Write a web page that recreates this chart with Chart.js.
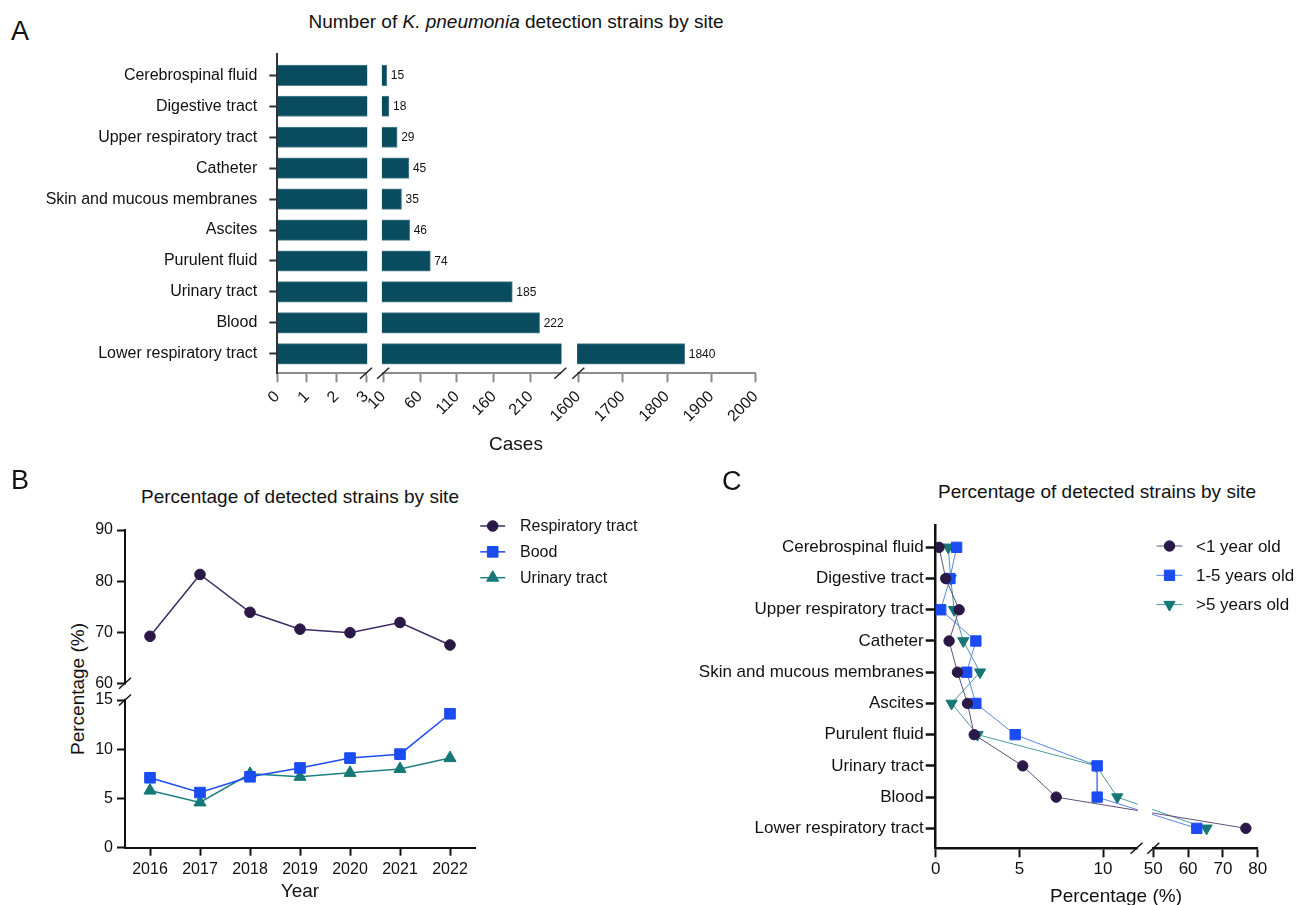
<!DOCTYPE html>
<html>
<head>
<meta charset="utf-8">
<title>K. pneumonia detection strains</title>
<script src="https://cdn.jsdelivr.net/npm/chart.js"></script>
<style>
  body { margin: 0; width: 1296px; height: 905px; background: #fff; position: relative; overflow: hidden;
         font-family: "Liberation Sans", Arial, sans-serif; color: #111; }
  canvas { position: absolute; }
  .t { position: absolute; white-space: nowrap; line-height: 1; font-size: 19px; transform: translate(-50%, -50%); }
  .letter { position: absolute; line-height: 1; font-size: 27px; transform: translateY(-50%); }
</style>
</head>
<body>
<div class="letter" style="left:11px;top:31px">A</div>
<div class="t" style="left:516px;top:21px">Number of <i>K. pneumonia</i> detection strains by site</div>
<canvas id="chartA" width="780" height="430" style="left:0;top:40px"></canvas>
<div class="t" style="left:516px;top:443px">Cases</div>

<div class="letter" style="left:11px;top:480px">B</div>
<div class="t" style="left:300px;top:496px">Percentage of detected strains by site</div>
<div class="t" style="left:77px;top:689px;transform:translate(-50%,-50%) rotate(-90deg)">Percentage (%)</div>
<canvas id="chartB" width="690" height="400" style="left:0;top:505px"></canvas>
<div class="t" style="left:300px;top:890px">Year</div>

<div class="letter" style="left:722px;top:481px">C</div>
<div class="t" style="left:1097px;top:491px">Percentage of detected strains by site</div>
<canvas id="chartC" width="606" height="405" style="left:690px;top:500px"></canvas>
<div class="t" style="left:1116px;top:895px">Percentage (%)</div>

<script>
// ---- data ----
const sites = ["Cerebrospinal fluid", "Digestive tract", "Upper respiratory tract", "Catheter",
  "Skin and mucous membranes", "Ascites", "Purulent fluid", "Urinary tract", "Blood", "Lower respiratory tract"];
const cases = [15, 18, 29, 45, 35, 46, 74, 185, 222, 1840];
const caseTicks = [0, 1, 2, 3, 10, 60, 110, 160, 210, 1600, 1700, 1800, 1900, 2000];

const years = ["2016", "2017", "2018", "2019", "2020", "2021", "2022"];
const respiratory = [69.2, 81.3, 73.9, 70.6, 69.9, 71.9, 67.5];
const bood = [7.1, 5.6, 7.2, 8.1, 9.1, 9.5, 13.6];
const urinary = [5.8, 4.6, 7.5, 7.2, 7.6, 8.0, 9.1];
const pctTicks = [0, 5, 10, 15, 60, 70, 80, 90];

const under1 = [0.2, 0.6, 1.4, 0.8, 1.3, 1.9, 2.3, 5.2, 7.2, 76.6];
const age1to5 = [1.25, 0.85, 0.3, 2.4, 1.85, 2.4, 4.75, 9.65, 9.65, 62.5];
const over5 = [0.75, 0.9, 1.1, 1.65, 2.65, 0.95, 2.5, 9.6, 10.85, 65.3];
const ageTicks = [0, 5, 10, 50, 60, 70, 80];

Chart.defaults.font.family = '"Liberation Sans", Arial, sans-serif';
Chart.defaults.color = "#111";

// linear scale cut into pieces, each piece gets its own stretch of the axis
class BrokenScale extends Chart.LinearScale {
  static id = "broken";
  static defaults = {};
  _offset(v) {
    const segs = this.options.segments;
    let i = 0;
    while (i < segs.length - 1 && v > segs[i].max) i++;
    const s = segs[i];
    if (i > 0 && v < s.min) {
      const p = segs[i - 1];
      return p.end + (v - p.max) / (s.min - p.max) * (s.start - p.end);
    }
    return s.start + (v - s.min) / (s.max - s.min) * (s.end - s.start);
  }
  getPixelForValue(v) {
    const off = this._offset(v);
    return this.isHorizontal() ? this.left + off : this.bottom - off;
  }
  getValueForPixel(px) {
    const off = this.isHorizontal() ? px - this.left : this.bottom - px;
    const segs = this.options.segments;
    let s = segs[segs.length - 1];
    for (const seg of segs) { if (off <= seg.end) { s = seg; break; } }
    return s.min + (off - s.start) / (s.end - s.start) * (s.max - s.min);
  }
}

// white out the gaps of a broken axis and draw the // marks
const breaksPlugin = {
  id: "breaks",
  afterDatasetsDraw(chart, args, opts) {
    const ctx = chart.ctx;
    const a = chart.chartArea;
    Object.values(chart.scales).forEach(s => {
      if (s.type !== "broken") return;
      const segs = s.options.segments;
      for (let i = 0; i < segs.length - 1; i++) {
        const p0 = s.getPixelForValue(segs[i].max);
        const p1 = s.getPixelForValue(segs[i + 1].min);
        ctx.save();
        ctx.fillStyle = "#fff";
        if (s.isHorizontal()) ctx.fillRect(p0 + 1.2, a.top - 4, p1 - p0 - 2.4, a.bottom - a.top + 7);
        else ctx.fillRect(a.left - 3, p1 + 1.2, a.right - a.left + 3, p0 - p1 - 2.4);
        ctx.strokeStyle = opts.color || "#111";
        ctx.lineWidth = opts.width || 1.5;
        [p0, p1].forEach(p => {
          const x = s.isHorizontal() ? p : a.left;
          const y = s.isHorizontal() ? a.bottom : p;
          ctx.beginPath();
          ctx.moveTo(x - 6, y + 5.5);
          ctx.lineTo(x + 6, y - 5.5);
          ctx.stroke();
        });
        ctx.restore();
      }
    });
  }
};

// numbers at the end of the bars, only where the bar ends inside a piece of the axis
const barValuesPlugin = {
  id: "barValues",
  afterDatasetsDraw(chart, args, opts) {
    if (!opts.show) return;
    const ctx = chart.ctx;
    const xs = chart.scales.x;
    const segs = xs.options.segments;
    ctx.save();
    ctx.font = opts.font;
    ctx.fillStyle = "#111";
    ctx.textBaseline = "middle";
    chart.getDatasetMeta(0).data.forEach((bar, i) => {
      const v = cases[i];
      if (!segs.some(s => v >= s.min && v <= s.max - 3)) return;
      ctx.fillText(String(v), bar.x + 4, bar.y + 0.5);
    });
    ctx.restore();
  }
};

// legend rows: short line with the marker on it, then the label
const sideLegendPlugin = {
  id: "sideLegend",
  afterDraw(chart, args, opts) {
    if (!opts.x) return;
    const ctx = chart.ctx;
    chart.data.datasets.forEach((ds, i) => {
      const y = opts.y + i * opts.dy;
      ctx.save();
      ctx.strokeStyle = ds.borderColor;
      ctx.lineWidth = ds.borderWidth;
      ctx.beginPath();
      ctx.moveTo(opts.x - opts.half, y);
      ctx.lineTo(opts.x + opts.half, y);
      ctx.stroke();
      ctx.fillStyle = ds.pointBackgroundColor;
      ctx.strokeStyle = ds.pointBorderColor;
      ctx.lineWidth = 1;
      Chart.helpers.drawPoint(ctx, { pointStyle: ds.pointStyle, radius: ds.pointRadius,
        rotation: ds.pointRotation || 0, borderWidth: 1 }, opts.x, y);
      ctx.fillStyle = "#111";
      ctx.font = opts.font;
      ctx.textBaseline = "middle";
      ctx.fillText(ds.label, opts.textX, y + 1);
      ctx.restore();
    });
  }
};

Chart.register(BrokenScale, breaksPlugin, barValuesPlugin, sideLegendPlugin);

function fixWidth(w) {
  return s => { s.width = w; s.paddingTop = 0; s.paddingBottom = 0; };
}
function fixHeight(h) {
  return s => { s.height = h; s.paddingLeft = 0; s.paddingRight = 0; };
}
const noTips = { legend: { display: false }, tooltip: { enabled: false } };

// ---- A: horizontal bars on a three piece axis ----
new Chart(document.getElementById("chartA"), {
  type: "bar",
  data: {
    datasets: [{
      data: cases.map((v, i) => ({ x: v, y: i })),
      backgroundColor: "#0a4c5f",
      borderColor: "#4f8290",
      borderWidth: 1,
      barThickness: 20.5
    }]
  },
  options: {
    indexAxis: "y",
    responsive: false,
    animation: false,
    layout: { padding: { top: 14, right: 24.3 } },
    plugins: { ...noTips, breaks: { color: "#222", width: 1.5 }, barValues: { show: true, font: "12px 'Liberation Sans', Arial, sans-serif" } },
    scales: {
      x: {
        type: "broken", min: 0, max: 2000,
        segments: [
          { min: 0, max: 3, start: 0, end: 88.7 },
          { min: 10, max: 250, start: 105.8, end: 283 },
          { min: 1600, max: 2000, start: 301, end: 478.4 }
        ],
        afterBuildTicks: s => { s.ticks = caseTicks.map(v => ({ value: v })); },
        afterFit: fixHeight(96.7),
        grid: { drawOnChartArea: false, tickLength: 9, tickWidth: 2, color: "#8c8c8c" },
        border: { color: "#8c8c8c", width: 2 },
        ticks: { autoSkip: false, minRotation: 45, maxRotation: 45, padding: 5, font: { size: 16 }, color: "#111",
          callback: v => String(v) }
      },
      y: {
        type: "linear", reverse: true, min: -0.69, max: 9.63, offset: false,
        afterBuildTicks: s => { s.ticks = sites.map((c, i) => ({ value: i })); },
        afterFit: fixWidth(277.3),
        grid: { drawOnChartArea: false, offset: false, tickLength: 8, tickWidth: 2, color: "#333" },
        border: { color: "#333", width: 2 },
        ticks: { autoSkip: false, padding: 12, font: { size: 16 }, color: "#111", callback: v => sites[v] }
      }
    }
  }
});

// ---- B: yearly lines on a two piece y axis ----
new Chart(document.getElementById("chartB"), {
  type: "line",
  data: {
    labels: years,
    datasets: [
      { label: "Respiratory tract", data: respiratory, borderColor: "#3b2c63", borderWidth: 1.5,
        pointStyle: "circle", pointRadius: 5.3, pointBackgroundColor: "#2a1846", pointBorderColor: "#2a1846", pointBorderWidth: 1 },
      { label: "Bood", data: bood, borderColor: "#1f4cf0", borderWidth: 1.5,
        pointStyle: "rect", pointRadius: 7.5, pointBackgroundColor: "#1a4cf2", pointBorderColor: "#1a4cf2", pointBorderWidth: 1 },
      { label: "Urinary tract", data: urinary, borderColor: "#1d7f80", borderWidth: 1.5,
        pointStyle: "triangle", pointRadius: 7, pointBackgroundColor: "#167777", pointBorderColor: "#167777", pointBorderWidth: 1 }
    ]
  },
  options: {
    responsive: false,
    animation: false,
    layout: { padding: { top: 25, right: 215 } },
    plugins: { ...noTips, breaks: { color: "#111", width: 1.5 },
      sideLegend: { x: 492.7, half: 12.5, textX: 520, y: 21, dy: 25.85, font: "16px 'Liberation Sans', Arial, sans-serif" } },
    scales: {
      x: {
        type: "category", offset: true,
        afterFit: fixHeight(57.3),
        grid: { drawOnChartArea: false, offset: false, tickLength: 8, tickWidth: 2, color: "#111" },
        border: { color: "#111", width: 2 },
        ticks: { autoSkip: false, maxRotation: 0, padding: 4, font: { size: 16 }, color: "#111" }
      },
      y: {
        type: "broken", min: 0, max: 90,
        segments: [
          { min: 0, max: 15, start: 0, end: 147.7 },
          { min: 60, max: 90, start: 164.4, end: 317.7 }
        ],
        afterBuildTicks: s => { s.ticks = pctTicks.map(v => ({ value: v })); },
        afterFit: fixWidth(125),
        grid: { drawOnChartArea: false, tickLength: 8, tickWidth: 2, color: "#111" },
        border: { color: "#111", width: 2 },
        ticks: { autoSkip: false, padding: 4, font: { size: 16 }, color: "#111", callback: v => String(v) }
      }
    }
  }
});

// ---- C: share by site and age, sites down the y axis ----
new Chart(document.getElementById("chartC"), {
  type: "line",
  data: {
    datasets: [
      { label: "<1 year old", data: under1.map((v, i) => ({ x: v, y: i })), borderColor: "#5d4f7e", borderWidth: 1,
        pointStyle: "circle", pointRadius: 5.2, pointBackgroundColor: "#2a1846", pointBorderColor: "#2a1846", pointBorderWidth: 1 },
      { label: "1-5 years old", data: age1to5.map((v, i) => ({ x: v, y: i })), borderColor: "#5b84ee", borderWidth: 1,
        pointStyle: "rect", pointRadius: 7.3, pointBackgroundColor: "#1a4cf2", pointBorderColor: "#1a4cf2", pointBorderWidth: 1 },
      { label: ">5 years old", data: over5.map((v, i) => ({ x: v, y: i })), borderColor: "#4e9a9a", borderWidth: 1,
        pointStyle: "triangle", pointRotation: 180, pointRadius: 6.5, pointBackgroundColor: "#167777", pointBorderColor: "#167777", pointBorderWidth: 1 }
    ]
  },
  options: {
    responsive: false,
    animation: false,
    layout: { padding: { top: 25, right: 38.3 } },
    plugins: { ...noTips, breaks: { color: "#111", width: 1.5 },
      sideLegend: { x: 479.5, half: 13, textX: 506, y: 46, dy: 29.3, font: "17px 'Liberation Sans', Arial, sans-serif" } },
    scales: {
      x: {
        type: "broken", min: 0, max: 80,
        segments: [
          { min: 0, max: 12, start: 0, end: 200.8 },
          { min: 50, max: 80, start: 217.6, end: 322 }
        ],
        afterBuildTicks: s => { s.ticks = ageTicks.map(v => ({ value: v })); },
        afterFit: fixHeight(56.7),
        grid: { drawOnChartArea: false, tickLength: 9, tickWidth: 2, color: "#111" },
        border: { color: "#111", width: 2.5 },
        ticks: { autoSkip: false, maxRotation: 0, padding: 2, font: { size: 17 }, color: "#111", callback: v => String(v) }
      },
      y: {
        type: "linear", reverse: true, min: -0.715, max: 9.64,
        afterBuildTicks: s => { s.ticks = sites.map((c, i) => ({ value: i })); },
        afterFit: fixWidth(245.7),
        grid: { drawOnChartArea: false, tickLength: 10, tickWidth: 2.5, color: "#111" },
        border: { color: "#111", width: 2.5 },
        ticks: { autoSkip: false, padding: 2, font: { size: 17 }, color: "#111", callback: v => sites[v] }
      }
    }
  }
});
</script>
</body>
</html>
